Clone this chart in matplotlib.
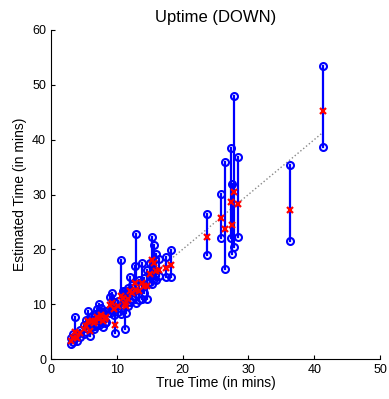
import matplotlib
matplotlib.use("Agg")
import matplotlib.pyplot as plt

true_time = [3.1, 3.4, 3.7, 4.0, 4.4, 5.0, 5.3, 5.6, 5.9, 6.2, 6.5, 6.7, 7.0, 7.3, 7.6,
             7.9, 8.2, 8.4, 9.0, 9.3, 9.6, 9.8, 10.2, 10.6, 11.0, 11.2, 11.4, 11.7, 12.0,
             12.3, 12.7, 12.9, 13.4, 13.8, 14.2, 14.6, 15.0, 15.3, 15.7, 16.0, 16.4, 17.5,
             18.3, 23.7, 25.9, 26.5, 27.3, 27.5, 27.8, 28.4, 36.3, 41.3]
est_low = [2.8, 3.2, 3.9, 3.3, 4.1, 4.6, 5.0, 5.6, 4.3, 5.8, 5.4, 6.1, 6.4, 6.3, 6.7,
           5.9, 6.6, 6.8, 8.4, 8.9, 8.0, 4.7, 8.6, 8.3, 9.8, 5.4, 8.4, 9.6, 10.4,
           11.0, 11.5, 10.2, 10.7, 11.0, 12.0, 11.0, 14.0, 13.6, 14.6, 14.5, 15.2, 14.9,
           14.9, 18.9, 22.0, 16.5, 22.1, 19.2, 20.5, 22.3, 21.5, 38.6]
est_mid = [3.3, 3.8, 4.9, 3.8, 4.7, 5.4, 6.0, 6.9, 5.2, 6.9, 6.5, 6.9, 7.6, 7.4, 8.0,
           6.9, 7.4, 7.7, 9.8, 10.2, 9.1, 6.3, 9.6, 11.5, 11.2, 10.1, 9.7, 11.0, 12.4,
           12.1, 13.8, 12.6, 12.4, 13.8, 13.3, 13.4, 15.6, 18.1, 17.5, 16.1, 16.2, 16.6,
           17.2, 22.2, 25.7, 23.8, 28.7, 24.5, 30.4, 28.3, 27.2, 45.2]
est_high = [3.9, 4.6, 7.6, 4.5, 5.3, 6.3, 7.1, 8.7, 6.2, 7.9, 7.6, 8.2, 9.1, 10.0, 9.4,
            8.6, 8.7, 8.8, 11.3, 12.1, 10.4, 10.3, 10.6, 18.1, 12.4, 12.4, 11.6, 12.9, 15.0,
            13.5, 17.0, 22.8, 14.5, 17.6, 14.7, 16.3, 17.5, 22.2, 20.8, 19.1, 18.2, 18.7,
            19.8, 26.5, 30.1, 35.9, 38.4, 32.0, 47.9, 36.9, 35.3, 53.5]

x_ticks = [0, 10, 20, 30, 40, 50]
y_ticks = [0, 10, 20, 30, 40, 50, 60]

plt.rcParams['font.family'] = ['Liberation Sans', 'DejaVu Sans']
fig = plt.figure(figsize=(3.89, 3.99), dpi=100)
ax = fig.add_axes([0.131, 0.100, 0.846, 0.825])

lo_t, hi_t = min(true_time), max(true_time)
ax.plot([lo_t, hi_t], [lo_t, hi_t], linestyle=':', color='#888888', linewidth=1.0, zorder=1)

for t, lo, mid, hi in zip(true_time, est_low, est_mid, est_high):
    ax.plot([t, t], [lo, hi], color='#0000ff', linewidth=1.6, marker='o',
            markersize=5, markerfacecolor='none', markeredgecolor='#0000ff',
            markeredgewidth=1.5, zorder=2)
ax.plot(true_time, est_mid, linestyle='none', marker='x', color='#ff0000',
        markersize=4, markeredgewidth=1.6, zorder=3)

ax.set_xlim(0, 50)
ax.set_ylim(0, 60)
ax.set_xticks(x_ticks)
ax.set_yticks(y_ticks)
ax.tick_params(direction='in', length=3, labelsize=9, top=False, right=False)
ax.spines['top'].set_visible(False)
ax.spines['right'].set_visible(False)
ax.set_title('Uptime (DOWN)', fontsize=12, pad=6)
ax.set_xlabel('True Time (in mins)', fontsize=10, labelpad=0)
ax.set_ylabel('Estimated Time (in mins)', fontsize=10, labelpad=4)

fig.savefig('out.png', dpi=100)
